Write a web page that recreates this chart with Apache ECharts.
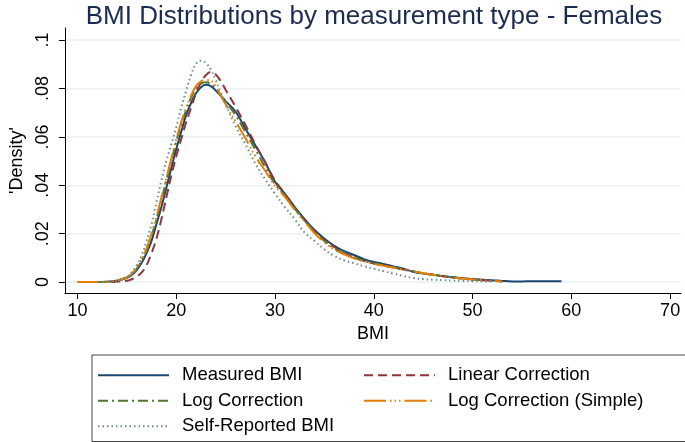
<!DOCTYPE html>
<html>
<head>
<meta charset="UTF-8">
<title>BMI Distributions</title>
<script src="https://cdn.jsdelivr.net/npm/echarts@6/dist/echarts.min.js"></script>
<style>
  body { margin: 0; background: #fff; }
  #chart { width: 685px; height: 442px; }
</style>
</head>
<body>
<div id="chart"></div>
<script>
// x positions of the density estimates (BMI)
var bmi = [10, 11, 12, 13, 14, 15, 15.5, 16, 16.5, 17, 17.5, 18, 18.5, 19, 19.5, 20, 20.5, 21, 21.5, 22, 22.5, 23, 23.5, 24, 24.5, 25,
           26, 27, 28, 29, 30, 31, 32, 33, 34, 35, 36, 37, 38, 39, 40, 41, 42, 43, 44, 45, 46, 47, 48, 49, 50, 51, 52, 53, 54, 55, 56, 57, 58, 59];

var measured = [null, null, null, 0.0002, 0.0006, 0.0018, 0.003, 0.005, 0.008, 0.012, 0.017, 0.024, 0.031, 0.039, 0.047, 0.055, 0.062, 0.069, 0.074, 0.078, 0.0805, 0.0815, 0.081, 0.0792, 0.077, 0.0748,
                0.0705, 0.0635, 0.0565, 0.0495, 0.0415, 0.0365, 0.031, 0.026, 0.0215, 0.018, 0.015, 0.0128, 0.0112, 0.0095, 0.0083, 0.0075, 0.0065, 0.0055, 0.0043, 0.0036, 0.003, 0.0025, 0.002, 0.0016, 0.0013, 0.001, 0.0008, 0.0005, 0.0003, 0.0003, 0.0004, 0.0004, 0.0004, 0.0004];

var linearCorr = [null, null, 0, 0, 0.0002, 0.0006, 0.0012, 0.0022, 0.004, 0.007, 0.012, 0.018, 0.026, 0.035, 0.044, 0.052, 0.059, 0.066, 0.072, 0.078, 0.0825, 0.0855, 0.0868, 0.0858, 0.083, 0.0795,
                  0.0725, 0.065, 0.057, 0.0495, 0.042, 0.0365, 0.0305, 0.0255, 0.021, 0.0175, 0.0145, 0.012, 0.0102, 0.0088, 0.0077, 0.0069, 0.006, 0.0052, 0.0044, 0.0037, 0.003, 0.0024, 0.0019, 0.0015, 0.0011, 0.0008, 0.0005, 0.0003, null, null, null, null, null, null];

var logCorr = [0, 0, 0, 0.0002, 0.0006, 0.0018, 0.0032, 0.0055, 0.009, 0.013, 0.019, 0.026, 0.034, 0.042, 0.05, 0.058, 0.065, 0.071, 0.0762, 0.08, 0.082, 0.0826, 0.082, 0.08, 0.0772, 0.0745,
               0.069, 0.062, 0.0548, 0.0475, 0.0405, 0.0358, 0.0305, 0.0255, 0.0208, 0.017, 0.0138, 0.0118, 0.0102, 0.0088, 0.0077, 0.0069, 0.006, 0.0052, 0.0044, 0.0036, 0.003, 0.0024, 0.0019, 0.0015, 0.0011, 0.0008, 0.0005, null, null, null, null, null, null, null];

var logSimple = [0, 0, 0, 0.0002, 0.0007, 0.002, 0.0035, 0.006, 0.0095, 0.014, 0.02, 0.027, 0.035, 0.043, 0.051, 0.059, 0.066, 0.072, 0.077, 0.081, 0.083, 0.0835, 0.0832, 0.0808, 0.0772, 0.0735,
                 0.0665, 0.0595, 0.052, 0.046, 0.0398, 0.0352, 0.0298, 0.025, 0.0202, 0.0165, 0.0135, 0.0115, 0.0098, 0.0086, 0.0076, 0.0068, 0.006, 0.0052, 0.0045, 0.0037, 0.003, 0.0024, 0.0019, 0.0015, 0.0011, 0.0008, 0.0005, 0.0003, null, null, null, null, null, null];

var selfReported = [null, null, 0, 0.0002, 0.0007, 0.0022, 0.004, 0.007, 0.011, 0.017, 0.024, 0.033, 0.042, 0.05, 0.057, 0.064, 0.072, 0.079, 0.0855, 0.0902, 0.0915, 0.0905, 0.0878, 0.0835, 0.0785, 0.0735,
                    0.0645, 0.057, 0.049, 0.0425, 0.0365, 0.031, 0.026, 0.0205, 0.017, 0.0135, 0.0108, 0.009, 0.0078, 0.0066, 0.0055, 0.0045, 0.0035, 0.0025, 0.0017, 0.0012, 0.001, 0.0008, 0.0006, 0.0005, 0.0004, 0.0003, 0.0003, null, null, null, null, null, null, null];

var xTicks = [10, 20, 30, 40, 50, 60, 70];
var yTicks = [0, 0.02, 0.04, 0.06, 0.08, 0.1];
var yTickLabels = ['0', '.02', '.04', '.06', '.08', '.1'];

function pairs(vals) {
    var out = [];
    for (var i = 0; i < bmi.length; i++) {
        if (vals[i] !== null) out.push([bmi[i], vals[i]]);
    }
    return out;
}

var font = 'Liberation Sans, Arial, Helvetica, sans-serif';

var myChart = echarts.init(document.getElementById('chart'));

function mkSeries(name, vals, color, dash) {
    return {
        name: name,
        type: 'line',
        data: pairs(vals),
        smooth: 0.4,
        showSymbol: false,
        symbol: 'none',
        lineStyle: { color: color, width: 2, type: dash },
        itemStyle: { color: color }
    };
}

var option = {
    backgroundColor: '#fff',
    animation: false,
    title: {
        text: 'BMI Distributions by measurement type - Females',
        left: 369,
        top: -1,
        textAlign: 'center',
        textStyle: { fontFamily: font, fontSize: 26, fontWeight: 'normal', color: '#1c2b50' }
    },
    grid: { left: 63, right: 4, top: 28, bottom: 149 },
    xAxis: {
        type: 'value',
        min: 8.73,
        max: 71.1,
        name: 'BMI',
        nameLocation: 'middle',
        nameGap: 31,
        nameTextStyle: { fontFamily: font, fontSize: 18, color: '#000' },
        axisLine: { show: true, onZero: false, lineStyle: { color: '#000', width: 1 } },
        axisTick: { show: true, length: 6, customValues: xTicks, lineStyle: { color: '#000' } },
        axisLabel: { customValues: xTicks, margin: 9, fontFamily: font, fontSize: 18, color: '#000' },
        splitLine: { show: false }
    },
    yAxis: {
        type: 'value',
        min: -0.0045,
        max: 0.105,
        name: "'Density'",
        nameLocation: 'middle',
        nameRotate: 90,
        nameGap: 38,
        nameTextStyle: { fontFamily: font, fontSize: 18, color: '#000' },
        axisLine: { show: true, onZero: false, lineStyle: { color: '#000', width: 1 } },
        axisTick: { show: true, length: 6, customValues: yTicks, lineStyle: { color: '#000' } },
        axisLabel: {
            customValues: yTicks,
            rotate: 90,
            margin: 13,
            fontFamily: font, fontSize: 18, color: '#000',
            formatter: function (v) {
                for (var i = 0; i < yTicks.length; i++) {
                    if (Math.abs(yTicks[i] - v) < 1e-9) return yTickLabels[i];
                }
                return '';
            }
        },
        splitLine: { show: true, lineStyle: { color: '#e8f0f2', width: 1.5 } }
    },
    legend: {
        left: 92,
        top: 355,
        width: 560,
        orient: 'horizontal',
        itemGap: 0,
        itemWidth: 71,
        itemHeight: 14,
        padding: [7.5, 54, 2.5, 5],
        borderColor: '#444',
        borderWidth: 1,
        selectedMode: false,
        itemStyle: { opacity: 0 },
        textStyle: { fontFamily: font, fontSize: 18.5, color: '#000', width: 181, lineHeight: 25.5, padding: [0, 0, 0, 8] },
        data: ['Measured BMI', 'Linear Correction', 'Log Correction', 'Log Correction (Simple)', 'Self-Reported BMI']
    },
    series: [
        mkSeries('Measured BMI', measured, '#1a476f', 'solid'),
        mkSeries('Linear Correction', linearCorr, '#90353b', [9, 5]),
        mkSeries('Log Correction', logCorr, '#55752f', [10, 4, 2, 4]),
        mkSeries('Log Correction (Simple)', logSimple, '#e37e00', [22, 4, 1.5, 3, 1.5, 3, 1.5, 4]),
        mkSeries('Self-Reported BMI', selfReported, '#6e8e84', [1.5, 3])
    ]
};

myChart.setOption(option);
</script>
</body>
</html>
